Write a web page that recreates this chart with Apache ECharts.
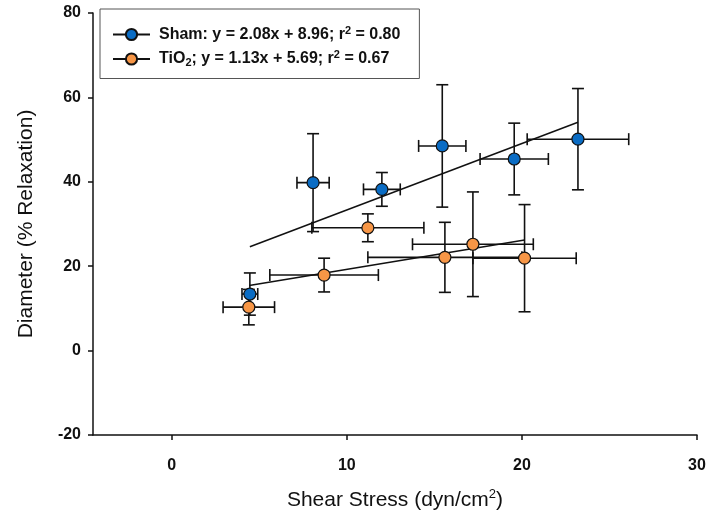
<!DOCTYPE html>
<html>
<head>
<meta charset="utf-8">
<script src="https://cdn.jsdelivr.net/npm/echarts@6/dist/echarts.min.js"></script>
<style>
  html, body { margin: 0; padding: 0; background: #fff; }
  #chart { width: 711px; height: 516px; }
</style>
</head>
<body>
<div id="chart"></div>
<script>
// Sham group: mean shear stress / diameter with SEM bars
const shamX = [4.46, 8.07, 12.0, 15.45, 19.56, 23.2];
const shamY = [13.4, 39.8, 38.2, 48.5, 45.4, 50.1];
const shamXErr = [0.45, 0.92, 1.05, 1.35, 1.95, 2.9];
const shamYErr = [5.0, 11.6, 4.0, 14.5, 8.5, 12.0];

// TiO2 group
const tioX = [4.4, 8.7, 11.2, 15.6, 17.2, 20.15];
const tioY = [10.3, 17.9, 29.1, 22.1, 25.2, 21.9];
const tioXErr = [1.47, 3.1, 3.2, 4.4, 3.45, 2.95];
const tioYErr = [4.2, 4.0, 3.3, 8.3, 12.4, 12.7];

// fitted lines as drawn (end points)
const shamFitX = [4.46, 23.2];
const shamFitY = [24.6, 54.1];
const tioFitX = [4.42, 20.15];
const tioFitY = [15.4, 26.2];

const xTicks = [0, 10, 20, 30];

const blue = "#0a6cc4";
const orange = "#f79646";

function zip(a, b, c, d) {
  return a.map((v, i) => (c ? [v, b[i], c[i], d[i]] : [v, b[i]]));
}

function errorBars(params, api) {
  const x = api.value(0);
  const y = api.value(1);
  const ex = api.value(2);
  const ey = api.value(3);
  const l = api.coord([x - ex, y]);
  const r = api.coord([x + ex, y]);
  const t = api.coord([x, y + ey]);
  const b = api.coord([x, y - ey]);
  const c = 6;
  const style = { stroke: "#111", lineWidth: 1.6 };
  const seg = (x1, y1, x2, y2) => ({
    type: "line",
    shape: { x1: x1, y1: y1, x2: x2, y2: y2 },
    style: style,
  });
  return {
    type: "group",
    children: [
      seg(l[0], l[1], r[0], r[1]),
      seg(l[0], l[1] - c, l[0], l[1] + c),
      seg(r[0], r[1] - c, r[0], r[1] + c),
      seg(t[0], t[1], b[0], b[1]),
      seg(t[0] - c, t[1], t[0] + c, t[1]),
      seg(b[0] - c, b[1], b[0] + c, b[1]),
    ],
  };
}

const chart = echarts.init(document.getElementById("chart"));

const font = "'Liberation Sans', Arial, sans-serif";

const option = {
  animation: false,
  grid: {
    left: 93,
    right: 14,
    top: 13,
    bottom: 81,
    containLabel: false,
    outerBoundsMode: "none",
  },
  legend: {
    data: ["Sham", "TiO2"],
    orient: "vertical",
    left: 100,
    top: 9,
    padding: [16, 19, 10, 12],
    itemWidth: 37,
    itemHeight: 14,
    itemGap: 7,
    borderColor: "#555",
    borderWidth: 1,
    backgroundColor: "#fff",
    formatter: function (name) {
      if (name === "Sham") {
        return "{t|Sham: y = 2.08x + 8.96; r}{sup|2}{t| = 0.80}";
      }
      return "{t|TiO}{sub|2}{t|; y = 1.13x + 5.69; r}{sup|2}{t| = 0.67}";
    },
    textStyle: {
      fontFamily: font,
      padding: [0, 0, 0, 4],
      rich: {
        t: { fontSize: 16, fontWeight: "bold", color: "#111", fontFamily: font },
        sup: { fontSize: 11, fontWeight: "bold", color: "#111", fontFamily: font, padding: [0, 0, 8, 0] },
        sub: { fontSize: 11, fontWeight: "bold", color: "#111", fontFamily: font, padding: [8, 0, 0, 0] },
      },
    },
  },
  xAxis: {
    type: "value",
    min: -4.5,
    max: 30,
    name: "{a|Shear Stress (dyn/cm}{s|2}{a|)}",
    nameLocation: "middle",
    nameGap: 53,
    nameTextStyle: {
      rich: {
        a: { fontSize: 21, color: "#111", fontFamily: font },
        s: { fontSize: 13, color: "#111", fontFamily: font, padding: [0, 0, 12, 0] },
      },
    },
    axisLine: { onZero: false, lineStyle: { color: "#111", width: 1.5 } },
    axisTick: {
      show: true,
      customValues: xTicks,
      length: 5,
      lineStyle: { color: "#111", width: 1.5 },
    },
    axisLabel: {
      customValues: xTicks,
      margin: 23,
      fontSize: 16,
      fontWeight: "bold",
      color: "#111",
      fontFamily: font,
    },
    splitLine: { show: false },
  },
  yAxis: {
    type: "value",
    min: -20,
    max: 80,
    interval: 20,
    name: "Diameter (% Relaxation)",
    nameLocation: "middle",
    nameGap: 56,
    nameTextStyle: { fontSize: 21, color: "#111", fontFamily: font },
    axisLine: { show: true, onZero: false, lineStyle: { color: "#111", width: 1.5 } },
    axisTick: { show: true, length: 5, lineStyle: { color: "#111", width: 1.5 } },
    axisLabel: {
      margin: 12,
      fontSize: 16,
      fontWeight: "bold",
      color: "#111",
      fontFamily: font,
    },
    splitLine: { show: false },
  },
  series: [
    {
      name: "shamErr",
      type: "custom",
      renderItem: errorBars,
      encode: { x: 0, y: 1 },
      data: zip(shamX, shamY, shamXErr, shamYErr),
      z: 1,
      silent: true,
    },
    {
      name: "tioErr",
      type: "custom",
      renderItem: errorBars,
      encode: { x: 0, y: 1 },
      data: zip(tioX, tioY, tioXErr, tioYErr),
      z: 1,
      silent: true,
    },
    {
      name: "Sham",
      type: "line",
      data: zip(shamFitX, shamFitY),
      showSymbol: false,
      symbol: "circle",
      itemStyle: { color: blue, borderColor: "#111", borderWidth: 1 },
      lineStyle: { color: "#111", width: 1.5 },
      z: 2,
      silent: true,
    },
    {
      name: "TiO2",
      type: "line",
      data: zip(tioFitX, tioFitY),
      showSymbol: false,
      symbol: "circle",
      itemStyle: { color: orange, borderColor: "#111", borderWidth: 1 },
      lineStyle: { color: "#111", width: 1.5 },
      z: 2,
      silent: true,
    },
    {
      name: "shamPts",
      type: "scatter",
      data: zip(shamX, shamY),
      symbolSize: 12,
      itemStyle: { color: blue, borderColor: "#111", borderWidth: 1.2, opacity: 1 },
      z: 3,
    },
    {
      name: "tioPts",
      type: "scatter",
      data: zip(tioX, tioY),
      symbolSize: 12,
      itemStyle: { color: orange, borderColor: "#111", borderWidth: 1.2, opacity: 1 },
      z: 3,
    },
  ],
};

chart.setOption(option);
</script>
</body>
</html>
